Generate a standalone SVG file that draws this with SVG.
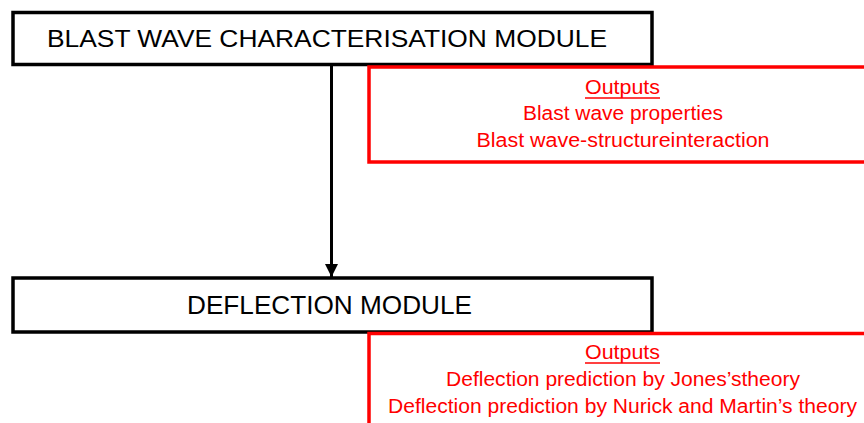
<svg xmlns="http://www.w3.org/2000/svg" width="864" height="423" viewBox="0 0 864 423">
  <defs>
    <style>
      .node { fill: #ffffff; stroke: #000000; stroke-width: 3.5; }
      .out { fill: #ffffff; stroke: #ff0000; stroke-width: 3.5; }
      .title { font-family: "Liberation Sans", Arial, sans-serif; fill: #000000; text-anchor: middle; }
      .red { font-family: "Liberation Sans", Arial, sans-serif; fill: #ff0000; font-size: 20px; text-anchor: middle; }
      .conn { stroke: #000000; stroke-width: 3; fill: none; }
    </style>
    <marker id="arrow" markerWidth="13" markerHeight="14" refX="13" refY="6.5" orient="auto" markerUnits="userSpaceOnUse">
      <path d="M0,0 L13,6.5 L0,13 Z" fill="#000000"/>
    </marker>
  </defs>
  <rect width="864" height="423" fill="#ffffff"/>

  <g id="connectors">
    <line class="conn" x1="331.5" y1="65" x2="331.5" y2="277" marker-end="url(#arrow)"/>
  </g>

  <g id="blast-module">
    <rect class="node" x="13" y="12.5" width="639" height="52"/>
    <text class="title" x="327" y="47" font-size="24" textLength="560" lengthAdjust="spacingAndGlyphs">BLAST WAVE  CHARACTERISATION MODULE</text>
  </g>

  <g id="blast-outputs">
    <rect class="out" x="369" y="67" width="520" height="95"/>
    <text class="red" x="622.5" y="94" textLength="75" lengthAdjust="spacingAndGlyphs">Outputs</text>
    <line x1="585" y1="98" x2="660" y2="98" stroke="#ff0000" stroke-width="1.5"/>
    <text class="red" x="623" y="120" textLength="200" lengthAdjust="spacingAndGlyphs">Blast wave properties</text>
    <text class="red" x="623" y="147" textLength="293" lengthAdjust="spacingAndGlyphs">Blast wave-structureinteraction</text>
  </g>

  <g id="deflection-module">
    <rect class="node" x="13" y="278" width="639" height="54"/>
    <text class="title" x="329.5" y="314" font-size="25" textLength="285" lengthAdjust="spacingAndGlyphs">DEFLECTION MODULE</text>
  </g>

  <g id="deflection-outputs">
    <rect class="out" x="369" y="333.5" width="520" height="120"/>
    <text class="red" x="622.5" y="359" textLength="75" lengthAdjust="spacingAndGlyphs">Outputs</text>
    <line x1="585" y1="363" x2="660" y2="363" stroke="#ff0000" stroke-width="1.5"/>
    <text class="red" x="623" y="385.5" textLength="354" lengthAdjust="spacingAndGlyphs">Deflection prediction by Jones’stheory</text>
    <text class="red" x="622.5" y="413" textLength="469" lengthAdjust="spacingAndGlyphs">Deflection prediction by Nurick and Martin’s theory</text>
  </g>
</svg>
